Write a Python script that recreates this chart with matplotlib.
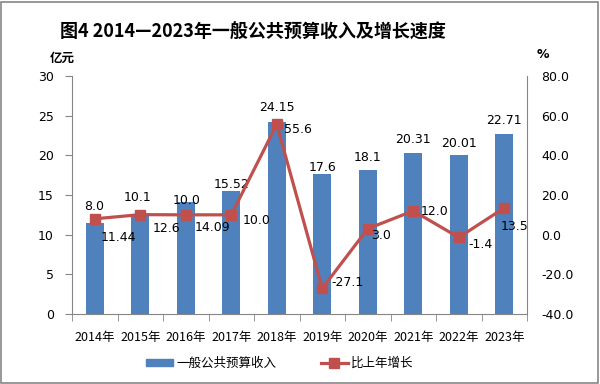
import matplotlib
matplotlib.use("Agg")
import matplotlib.pyplot as plt
from matplotlib.patches import Rectangle
from matplotlib.lines import Line2D
from matplotlib.patches import Patch
import numpy as np

plt.rcParams['font.family'] = ['Noto Sans CJK SC', 'DejaVu Sans']

years = ['2014年', '2015年', '2016年', '2017年', '2018年', '2019年', '2020年', '2021年', '2022年', '2023年']
revenue = [11.44, 12.6, 14.09, 15.52, 24.15, 17.6, 18.1, 20.31, 20.01, 22.71]
revenue_labels = ['11.44', '12.6', '14.09', '15.52', '24.15', '17.6', '18.1', '20.31', '20.01', '22.71']
growth = [8.0, 10.1, 10.0, 10.0, 55.6, -27.1, 3.0, 12.0, -1.4, 13.5]
growth_labels = ['8.0', '10.1', '10.0', '10.0', '55.6', '-27.1', '3.0', '12.0', '-1.4', '13.5']
left_ticks = [0, 5, 10, 15, 20, 25, 30]
right_ticks = [-40, -20, 0, 20, 40, 60, 80]

# label offsets in pixels (dx right, dy down) – styling only
bar_off = [(24, 14), (26, 14), (27, 25), (0, -6), (0, -15), (0, -7), (0, -13), (0, -13), (0, -12), (0, -13)]
line_off = [(-1, -12), (-3, -17), (1, -14), (25, 6), (21, 5), (25, -6), (13, 7), (21, 1), (22, 7), (10, 19)]

BLUE = '#4F81BD'
RED = '#C0504D'
GRAY = '#868686'

fig = plt.figure(figsize=(6, 3.84), dpi=100)
ax = fig.add_axes([72/600, 1-314/384, (527-72)/600, (314-76)/384])
ax2 = ax.twinx()

x = np.arange(len(years))
ax.bar(x, revenue, width=0.4, color=BLUE, zorder=2)
ax.set_xlim(-0.5, len(years) - 0.5)
ax.set_ylim(0, 30)
ax.set_yticks(left_ticks)
ax.set_yticklabels([str(t) for t in left_ticks], fontsize=9, family='DejaVu Sans')

ax.set_xticks(x)
ax.set_xticklabels(years, fontsize=9)
ax.tick_params(axis='x', which='major', length=0, pad=12)
ax.set_xticks(np.arange(-0.5, len(years)), minor=True)
ax.tick_params(axis='x', which='minor', length=5, color=GRAY, direction='out')
ax.tick_params(axis='y', length=5, color=GRAY, direction='out', pad=8)

ax2.plot(x, growth, color=RED, lw=2.3, marker='s', markersize=7.2, zorder=3)
ax2.set_ylim(-40, 80)
ax2.set_yticks(right_ticks)
ax2.set_yticklabels(['%.1f' % t for t in right_ticks], fontsize=9, family='DejaVu Sans')
ax2.tick_params(axis='y', length=0, pad=10)

for a in (ax, ax2):
    a.spines['top'].set_visible(False)
    for s in ('left', 'right', 'bottom'):
        a.spines[s].set_color(GRAY)
ax.spines['right'].set_visible(False)
ax2.spines['left'].set_visible(False)
ax2.spines['bottom'].set_visible(False)

k = 0.72
for i, (v, lab) in enumerate(zip(revenue, revenue_labels)):
    dx, dy = bar_off[i]
    ax.annotate(lab, (x[i], v), xytext=(dx*k, -dy*k), textcoords='offset points',
                ha='center', va='center', fontsize=9, family='DejaVu Sans', zorder=5)
for i, (v, lab) in enumerate(zip(growth, growth_labels)):
    dx, dy = line_off[i]
    ax2.annotate(lab, (x[i], v), xytext=(dx*k, -dy*k), textcoords='offset points',
                 ha='center', va='center', fontsize=9, family='DejaVu Sans', zorder=5)

fig.text(253/600, 1-32/384, '图4 2014—2023年一般公共预算收入及增长速度', ha='center', va='center',
         fontsize=13, fontweight='bold')
fig.text(62/600, 1-58/384, '亿元', ha='center', va='center', fontsize=9, fontweight='bold')
fig.text(543/600, 1-54/384, '%', ha='center', va='center', fontsize=9, fontweight='bold', family='DejaVu Sans')

handles = [Patch(color=BLUE, label='一般公共预算收入'),
           Line2D([], [], color=RED, lw=2.3, marker='s', markersize=7.2, label='比上年增长')]
fig.legend(handles=handles, loc='center', bbox_to_anchor=(280/600, 1-363/384), ncol=2, frameon=False,
           fontsize=9, handlelength=2.1, handleheight=0.5, handletextpad=0.3, columnspacing=3.6)

fig.patches.append(Rectangle((1/600, 1/384), 597/600, 381/384, transform=fig.transFigure,
                             fill=False, edgecolor=GRAY, lw=1.2))

fig.savefig('out.png', dpi=100)
